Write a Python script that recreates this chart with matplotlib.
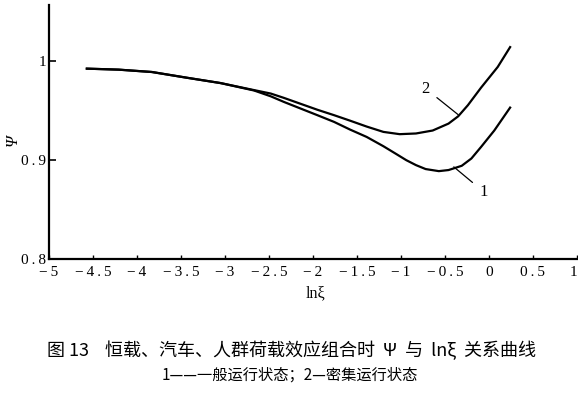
import matplotlib
matplotlib.use("Agg")
import matplotlib.pyplot as plt

# ---- data ----
x_curve1 = [-4.57, -4.21, -3.83, -3.44, -3.05, -2.67, -2.48, -2.33, -2.14, -1.95, -1.76, -1.58,
            -1.39, -1.20, -1.05, -0.94, -0.83, -0.72, -0.57, -0.46, -0.31, -0.20, -0.09, 0.06, 0.24]
y_curve1 = [0.9926, 0.9916, 0.9892, 0.9835, 0.978, 0.9705, 0.9646, 0.9589, 0.9522, 0.9455, 0.9387, 0.931,
            0.9235, 0.9141, 0.906, 0.900, 0.895, 0.891, 0.8889, 0.890, 0.8943, 0.9017, 0.9134, 0.930, 0.9532]

x_curve2 = [-4.57, -4.21, -3.83, -3.44, -3.05, -2.67, -2.48, -2.33, -2.14, -1.95, -1.76, -1.58,
            -1.39, -1.20, -1.015, -0.83, -0.64, -0.46, -0.35, -0.24, -0.09, 0.099, 0.24]
y_curve2 = [0.9926, 0.9916, 0.9892, 0.9835, 0.978, 0.9709, 0.9674, 0.963, 0.957, 0.951, 0.9455, 0.940,
            0.934, 0.9286, 0.9263, 0.927, 0.930, 0.937, 0.9444, 0.9556, 0.9734, 0.9943, 1.0144]

x_ticks = [-5, -4.5, -4, -3.5, -3, -2.5, -2, -1.5, -1, -0.5, 0, 0.5, 1]
x_tick_labels = ["− 5", "−4.5", "− 4", "−3.5", "− 3", "−2.5", "− 2", "−1.5", "− 1", "−0.5", "0", "0.5", "1"]
y_ticks = [0.8, 0.9, 1.0]
y_tick_labels = ["0.8", "0.9", "1"]

curve_labels = ["1", "2"]
caption1 = "图 13    恒载、汽车、人群荷载效应组合时  Ψ  与  lnξ  关系曲线"
caption2 = "1——一般运行状态；2—密集运行状态"

serif = ["Liberation Serif", "DejaVu Serif"]
cjk = ["Noto Sans CJK SC", "DejaVu Sans"]


def spaced(s):
    # add thin spaces between characters to mimic the wide print spacing
    return "\u2009".join(s.replace(" ", ""))


fig = plt.figure(figsize=(5.78, 3.97), dpi=100)
ax = fig.add_axes([49 / 578, 1 - 259 / 397, (577 - 49) / 578, (259 - 5) / 397])

ax.plot(x_curve1, y_curve1, color="black", lw=1.6, solid_joinstyle="round")
ax.plot(x_curve2, y_curve2, color="black", lw=1.6, solid_joinstyle="round")

ax.set_xlim(-5, 1)
ax.set_ylim(0.8, 1.057)
ax.spines["top"].set_visible(False)
ax.spines["right"].set_visible(False)
ax.spines["left"].set_linewidth(1.6)
ax.spines["bottom"].set_linewidth(1.6)

ax.set_xticks(x_ticks)
ax.set_xticklabels([spaced(t) for t in x_tick_labels], fontfamily=serif, fontsize=11)
ax.set_yticks(y_ticks)
ax.set_yticklabels([spaced(t) for t in y_tick_labels], fontfamily=serif, fontsize=11)
ax.tick_params(axis="x", direction="in", length=3, width=1, pad=5)
ax.tick_params(axis="y", direction="in", length=5, width=1.2, pad=2)
# keep the last x label inside the picture
ax.get_xticklabels()[-1].set_horizontalalignment("right")

ax.set_xlabel("lnξ", fontfamily=serif, fontsize=11.5)
ax.xaxis.set_label_coords((316 - 49) / 528, (259 - 293) / 254)
ax.xaxis.label.set_va("center")
ax.set_ylabel("Ψ", fontfamily=serif, fontsize=12, style="italic")
ax.yaxis.set_label_coords((13 - 49) / 528, (259 - 140) / 254)
ax.yaxis.label.set_va("center")

# curve labels with leader lines
ax.annotate(curve_labels[1], xy=(-0.35, 0.946), xytext=(-0.72, 0.9724),
            fontfamily=serif, fontsize=12, ha="center", va="center",
            arrowprops=dict(arrowstyle="-", color="black", lw=0.9, shrinkA=4, shrinkB=0))
ax.annotate(curve_labels[0], xy=(-0.40, 0.8932), xytext=(-0.06, 0.868),
            fontfamily=serif, fontsize=12, ha="center", va="center",
            arrowprops=dict(arrowstyle="-", color="black", lw=0.9, shrinkA=4, shrinkB=0))

fig.text(291.5 / 578, 1 - 350 / 397, caption1, family=cjk, fontsize=13, ha="center", va="center")
fig.text(290 / 578, 1 - 375 / 397, caption2, family=cjk, fontsize=11, ha="center", va="center")

fig.savefig("out.png", dpi=100)
